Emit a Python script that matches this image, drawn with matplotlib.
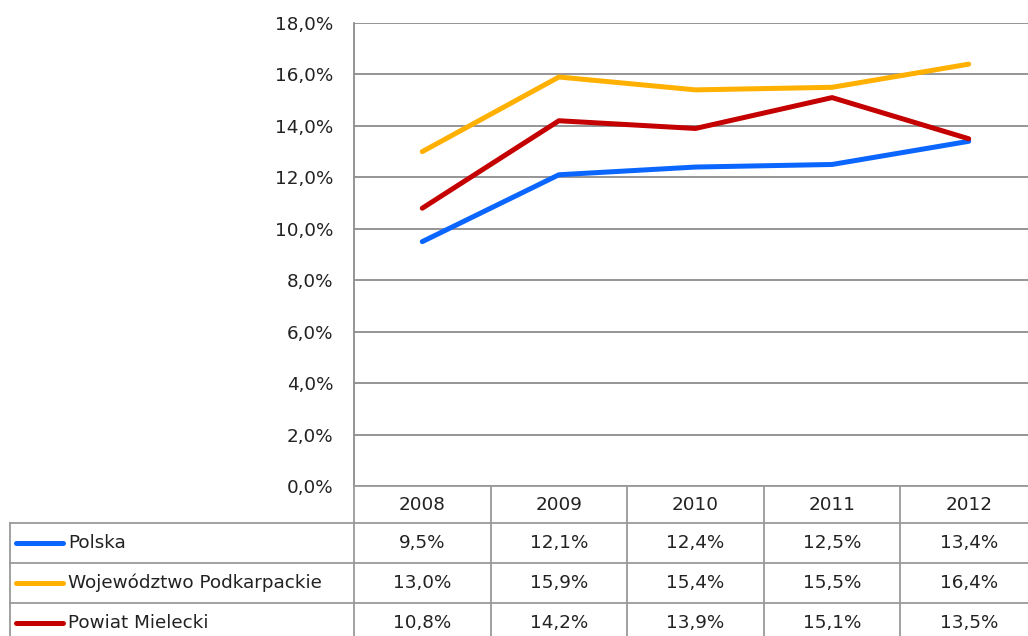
import matplotlib
matplotlib.use("Agg")
import matplotlib.pyplot as plt
from matplotlib.transforms import blended_transform_factory
from matplotlib.lines import Line2D

# data
years = ["2008", "2009", "2010", "2011", "2012"]
polska = [9.5, 12.1, 12.4, 12.5, 13.4]
podkarpackie = [13.0, 15.9, 15.4, 15.5, 16.4]
mielecki = [10.8, 14.2, 13.9, 15.1, 13.5]
names = ["Polska", "Województwo Podkarpackie", "Powiat Mielecki"]
colors = ["#0A66FF", "#FFB000", "#C40000"]
series = [polska, podkarpackie, mielecki]

plt.rcParams['font.family'] = ['DejaVu Sans']
fs = 13.2
tc = "#222222"
W, H = 1028, 636
fig = plt.figure(figsize=(W / 100, H / 100), dpi=100)

# plot area in pixels
left, right, top, bottom = 354, 1037, 23, 486
ax = fig.add_axes([left / W, (H - bottom) / H, (right - left) / W, (bottom - top) / H])
ax.set_xlim(-0.5, 4.5)
ax.set_ylim(0, 18)
ax.set_yticks(range(0, 19, 2))
ax.set_yticklabels([f"{v},0%" for v in range(0, 19, 2)], fontsize=fs, color=tc)
ax.set_xticks([])
ax.tick_params(axis="y", length=0, pad=15)
ax.grid(axis="y", color="#8C8C8C", lw=1.3)
ax.set_axisbelow(True)
for s in ["top", "right", "bottom"]:
    ax.spines[s].set_visible(False)
ax.spines["left"].set_color("#8C8C8C")
ax.spines["left"].set_linewidth(1.3)

x = list(range(len(years)))
for vals, c in zip(series, colors):
    ax.plot(x, vals, color=c, lw=3.6, solid_capstyle="round", solid_joinstyle="round")

# data table under the chart
colw = (right - left) / len(years)
ph = bottom - top
def ry(px):
    return (bottom - px) / ph
def cx(px):
    return (px - left) / colw - 0.5

tr = blended_transform_factory(ax.transData, ax.transAxes)
grey = "#9A9A9A"
rows = [486, 523, 563, 603, 643]
tleft = cx(10)

def hline(x0, x1, y):
    fig.add_artist(Line2D([x0, x1], [ry(y), ry(y)], transform=tr, color=grey, lw=1.3))
def vline(xv, y0, y1):
    fig.add_artist(Line2D([xv, xv], [ry(y0), ry(y1)], transform=tr, color=grey, lw=1.3))

hline(-0.5, 4.5, rows[0])
for yb in rows[1:]:
    hline(tleft, 4.5, yb)
vline(tleft, rows[1], rows[-1])
for i in range(len(years)):
    vline(i - 0.5, rows[0], rows[-1])

for i, yr in enumerate(years):
    ax.text(i, ry((rows[0] + rows[1]) / 2), yr, transform=tr, ha="center", va="center",
            fontsize=fs, color=tc)

for r, (name, c, vals) in enumerate(zip(names, colors, series)):
    yc = ry((rows[r + 1] + rows[r + 2]) / 2)
    fig.add_artist(Line2D([cx(16), cx(63)], [yc, yc], transform=tr, color=c, lw=3.6,
                          solid_capstyle="round"))
    ax.text(cx(68), yc, name, transform=tr, ha="left", va="center", fontsize=fs, color=tc)
    for i, v in enumerate(vals):
        ax.text(i, yc, f"{v:.1f}%".replace(".", ","), transform=tr, ha="center", va="center",
                fontsize=fs, color=tc)

fig.savefig("out.png", dpi=100)
